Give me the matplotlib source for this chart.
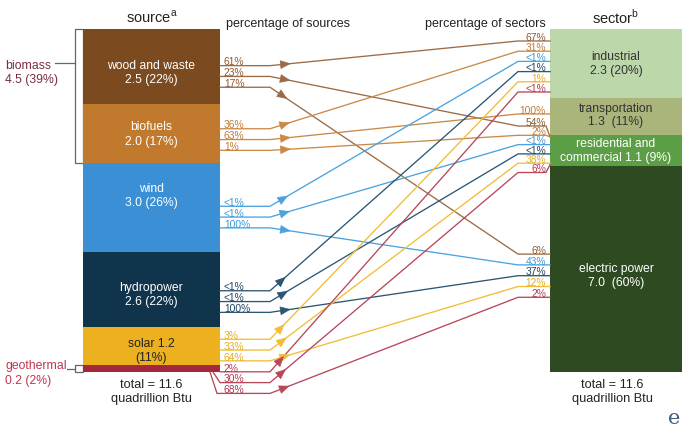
import math
import matplotlib
matplotlib.use('Agg')
import matplotlib.pyplot as plt
from matplotlib.patches import Rectangle, FancyArrowPatch

plt.rcParams['font.family'] = ['Liberation Sans', 'DejaVu Sans']
plt.rcParams['mathtext.fontset'] = 'custom'
plt.rcParams['mathtext.rm'] = 'Liberation Sans'

# Source side (quadrillion Btu, share of total)
sources = ['wood and waste', 'biofuels', 'wind', 'hydropower', 'solar', 'geothermal']
source_values = [2.5, 2.0, 3.0, 2.6, 1.2, 0.2]
source_shares = [22, 17, 26, 22, 11, 2]

# Sector side
sectors = ['industrial', 'transportation', 'residential and commercial', 'electric power']
sector_values = [2.3, 1.3, 1.1, 7.0]
sector_shares = [20, 11, 9, 60]

biomass_value = 4.5
biomass_share = 39
total_btu = 11.6

# Flows source -> sector with the two printed percentages
flow_source = [0, 0, 0, 1, 1, 1, 2, 2, 2, 3, 3, 3, 4, 4, 4, 5, 5, 5]
flow_sector = [0, 2, 3, 0, 1, 2, 0, 2, 3, 0, 2, 3, 0, 2, 3, 0, 2, 3]
pct_of_source = ['61%', '23%', '17%', '36%', '63%', '1%', '<1%', '<1%', '100%',
                 '<1%', '<1%', '100%', '3%', '33%', '64%', '2%', '30%', '68%']
pct_of_sector = ['67%', '54%', '6%', '31%', '100%', '2%', '<1%', '<1%', '43%',
                 '<1%', '<1%', '37%', '1%', '38%', '12%', '<1%', '6%', '2%']

# Styling
block_colors = ['#7B4A1F', '#C17A2D', '#3A8FD5', '#0F344C', '#EDB120', '#A3283C']
line_colors = ['#9C6B45', '#C98A48', '#4AA3E0', '#2C5672', '#F2BD36', '#B8475A']
label_colors = ['#8A5A35', '#C07A35', '#3A9AD9', '#1F4560', '#E8AE20', '#B03A50']
block_text_colors = ['white', 'white', 'white', 'white', '#222222', 'white']
sector_colors = ['#BCD7A9', '#AAB57B', '#5C9E45', '#2E4A20']
sector_text_colors = ['#333333', '#333333', 'white', 'white']
source_fmt = ['{n}\n{v} ({s}%)', '{n}\n{v} ({s}%)', '{n}\n{v} ({s}%)',
              '{n}\n{v} ({s}%)', '{n} {v}\n({s}%)', None]
sector_fmt = ['{n}\n{v} ({s}%)', '{n}\n{v}  ({s}%)',
              'residential and\ncommercial {v} ({s}%)', '{n}\n{v}  ({s}%)']

# Layout (x in pixels, y in percent of total)
PX = 3.43          # pixels per percentage point
TOP_PX = 30
SRC_L, SRC_R = 83, 220
SEC_L, SEC_R = 550, 684
BEND_L, BEND_R = 270, 518
src_gap_px = 10.8
src_shift = [-0.1, -0.45, -0.1, 0.1, -0.65, 0.3]
src_text_dy = [5, 0, -12, 4, 4, 0]
sec_gap_px = [10.2, 10, 9.3, 10.8]
sec_shift_px = [3.2, -2.5, -1.5, 6.6]
sec_text_dy = [0, -2, -1, 6]


def px(n):
    """pixel distance -> y units"""
    return n / PX


def cumulative(shares):
    """top edge of each stacked block"""
    tops, acc = [], 0
    for s in shares:
        tops.append(acc)
        acc += s
    return tops


fig = plt.figure(figsize=(6.82, 4.27), dpi=100)
ax = fig.add_axes([0, 0, 1, 1])
ax.set_xlim(0, 682)
ax.set_ylim((427 - TOP_PX) / PX, -TOP_PX / PX)
ax.axis('off')

src_tops = cumulative(source_shares)
sec_tops = cumulative(sector_shares)

# Blocks
ax.bar([(SRC_L + SRC_R) / 2] * len(sources), source_shares, bottom=src_tops,
       width=SRC_R - SRC_L, color=block_colors, linewidth=0, zorder=2)
ax.bar([(SEC_L + SEC_R) / 2] * len(sectors), sector_shares, bottom=sec_tops,
       width=SEC_R - SEC_L, color=sector_colors, linewidth=0, zorder=2)

for i, name in enumerate(sources):
    if source_fmt[i] is None:
        continue
    ax.text((SRC_L + SRC_R) / 2, src_tops[i] + source_shares[i] / 2 + px(src_text_dy[i]),
            source_fmt[i].format(n=name, v=source_values[i], s=source_shares[i]),
            ha='center', va='center', color=block_text_colors[i], fontsize=8.7,
            linespacing=1.25, zorder=3)

for j, name in enumerate(sectors):
    ax.text((SEC_L + 682) / 2, sec_tops[j] + sector_shares[j] / 2 + px(sec_text_dy[j]),
            sector_fmt[j].format(n=name, v=sector_values[j], s=sector_shares[j]),
            ha='center', va='center', color=sector_text_colors[j], fontsize=8.7,
            linespacing=1.2, zorder=3)

# Line positions on each side
src_y = []
count = {}
for f, s in enumerate(flow_source):
    k = count.get(s, 0)
    count[s] = k + 1
    center = src_tops[s] + source_shares[s] / 2
    src_y.append(center + px(src_gap_px) * (k + src_shift[s]))

sec_y = []
n_in = [flow_sector.count(j) for j in range(len(sectors))]
count = {}
for f, j in enumerate(flow_sector):
    k = count.get(j, 0)
    count[j] = k + 1
    center = sec_tops[j] + sector_shares[j] / 2
    sec_y.append(center + px(sec_gap_px[j]) * (k - (n_in[j] - 1) / 2) + px(sec_shift_px[j]))

# Flow lines
overflow = 0
for f in range(len(flow_source)):
    s, j = flow_source[f], flow_sector[f]
    sy, ty = src_y[f], sec_y[f]
    lo = sec_tops[j] + px(1.5)
    hi = sec_tops[j] + sector_shares[j] - px(1.5)
    end_y = min(max(ty, lo), hi)
    xs = [SRC_R, BEND_L, BEND_R, SEC_L - 4, SEC_L]
    ys = [sy, sy, ty, ty, end_y]
    bottom = src_tops[s] + source_shares[s]
    if sy > bottom + px(1):
        x0 = 213 - 3 * overflow
        xs = [x0, x0 + 7] + xs[1:]
        ys = [bottom, sy] + ys[1:]
        overflow += 1
    ax.plot(xs, ys, color=line_colors[s], lw=0.95, zorder=4, solid_joinstyle='miter')

    # arrow head a little way along the diagonal
    dx = BEND_R - BEND_L
    dy = (ty - sy) * PX
    L = math.hypot(dx, dy)
    ux, uy = dx / L, dy / L
    tip = (BEND_L + 21 * ux, sy + px(21 * uy))
    base = (BEND_L + 11 * ux, sy + px(11 * uy))
    ax.add_patch(FancyArrowPatch(base, tip, arrowstyle='-|>,head_length=6.8,head_width=2.8',
                                 mutation_scale=1, color=line_colors[s], lw=0.5,
                                 shrinkA=0, shrinkB=0, zorder=5))

    ax.text(SRC_R + 4, sy - px(1.3), pct_of_source[f], ha='left', va='baseline',
            fontsize=7.4, color=label_colors[s], zorder=6)
    ax.text(SEC_L - 4, ty - px(1.3), pct_of_sector[f], ha='right', va='baseline',
            fontsize=7.4, color=label_colors[s], zorder=6)

# Biomass bracket
ax.add_patch(Rectangle((75, 0), SRC_L - 75, biomass_share, facecolor='white',
                       edgecolor='#666666', lw=0.9, zorder=1))
ax.plot([55, 75], [px(34), px(34)], color='#666666', lw=0.9)
ax.text(5, px(43), f'biomass\n{biomass_value} ({biomass_share}%)', ha='left', va='center',
        fontsize=8.8, color='#7A2C40', linespacing=1.25)

# Geothermal bracket
geo = len(sources) - 1
ax.add_patch(Rectangle((75, src_tops[geo]), SRC_L - 75, source_shares[geo], facecolor='white',
                       edgecolor='#666666', lw=0.9, zorder=1))
ax.plot([67, 75], [src_tops[geo] + 1, src_tops[geo] + 1], color='#666666', lw=0.9)
ax.text(5, src_tops[geo] + 1 + px(4), f'geothermal\n{source_values[geo]} ({source_shares[geo]}%)',
        ha='left', va='center', fontsize=8.8, color='#C0364E', linespacing=1.3)

# Headers
ax.text((SRC_L + SRC_R) / 2, px(-13), 'source$^{\\mathrm{a}}$', ha='center', va='center',
        fontsize=10.5, color='#222222')
ax.text((SEC_L + 682) / 2, px(-13), 'sector$^{\\mathrm{b}}$', ha='center', va='center',
        fontsize=10.5, color='#222222')
ax.text(226, px(-5.5), 'percentage of sources', ha='left', va='center', fontsize=9, color='#222222')
ax.text(546, px(-5.5), 'percentage of sectors', ha='right', va='center', fontsize=9, color='#222222')

# Totals
ax.text((SRC_L + SRC_R) / 2, 100 + px(19), f'total = {total_btu}\nquadrillion Btu',
        ha='center', va='center', fontsize=9.2, color='#222222', linespacing=1.2)
ax.text(612, 100 + px(19), f'total = {total_btu}\nquadrillion Btu',
        ha='center', va='center', fontsize=9.2, color='#222222', linespacing=1.2)

# eia logo fragment
ax.text(674, 100 + px(46), 'e', ha='center', va='center', fontsize=15,
        family='DejaVu Serif', color='#3F5F80')

fig.savefig('out.png', dpi=100)
